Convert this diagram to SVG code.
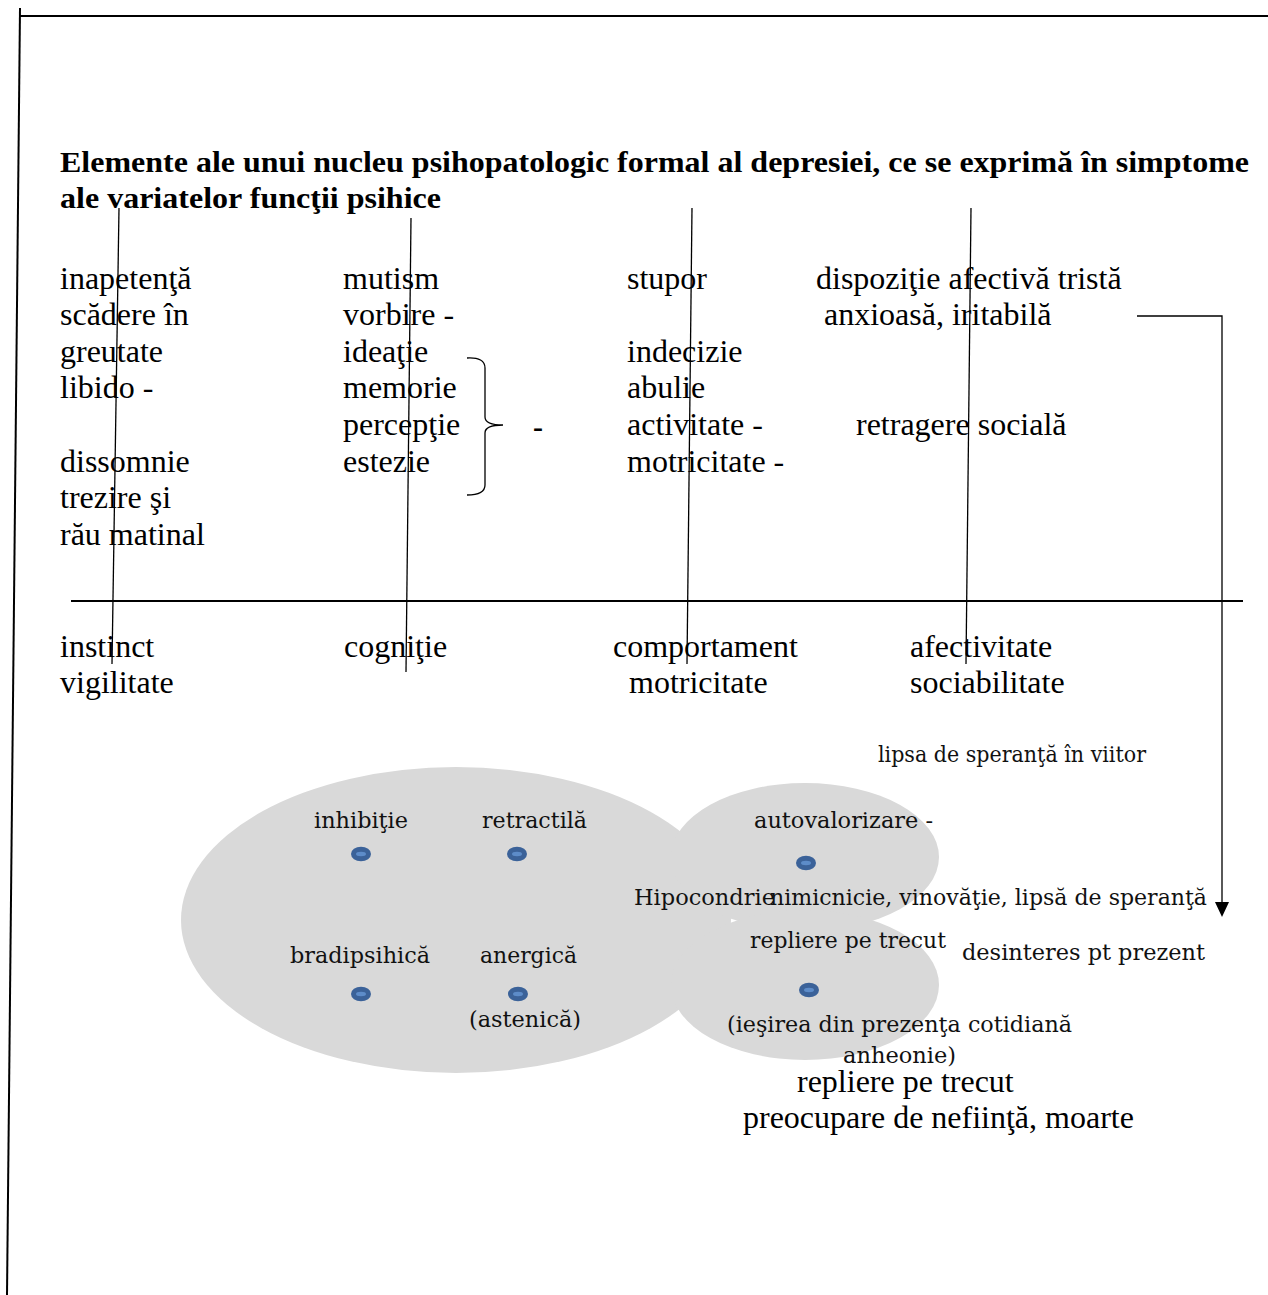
<svg xmlns="http://www.w3.org/2000/svg" width="1268" height="1295" viewBox="0 0 1268 1295">
  <style>
    .t { font-family: "Liberation Serif", "Times New Roman", serif; font-size: 32px; fill: #000; }
    .h { font-family: "Liberation Serif", "Times New Roman", serif; font-size: 29px; font-weight: bold; fill: #000; }
    .c { font-family: "DejaVu Serif", "Liberation Serif", serif; font-size: 22px; fill: #111; }
    .ln { stroke: #000; stroke-width: 1.3; fill: none; }
    .frame { stroke: #000; stroke-width: 2; fill: none; }
    .blob { fill: #d9d9d9; }
    .dot-o { fill: #3b6299; }
    .dot-i { fill: #5d8cc9; }
  </style>
  <defs>
    <g id="dot">
      <ellipse class="dot-o" cx="0" cy="0" rx="10" ry="7.3"/>
      <ellipse class="dot-i" cx="0" cy="0" rx="5" ry="2.2"/>
    </g>
  </defs>

  <rect width="1268" height="1295" fill="#fff"/>

  <!-- page frame -->
  <g id="frame">
    <line class="frame" x1="19" y1="16" x2="1268" y2="16"/>
    <line class="frame" x1="20" y1="8" x2="7" y2="1295"/>
  </g>

  <!-- heading -->
  <g id="title">
    <text class="h" x="60" y="172" textLength="1189" lengthAdjust="spacingAndGlyphs">Elemente ale unui nucleu psihopatologic formal al depresiei, ce se exprimă în simptome</text>
    <text class="h" x="60" y="208" textLength="381" lengthAdjust="spacingAndGlyphs">ale variatelor funcţii psihice</text>
  </g>

  <!-- symptom columns -->
  <g id="col-instinct">
    <text class="t" x="60" y="289">inapetenţă</text>
    <text class="t" x="60" y="325">scădere în</text>
    <text class="t" x="60" y="362">greutate</text>
    <text class="t" x="60" y="398">libido -</text>
    <text class="t" x="60" y="472">dissomnie</text>
    <text class="t" x="60" y="508">trezire şi</text>
    <text class="t" x="60" y="545">rău matinal</text>
  </g>
  <g id="col-cognitie">
    <text class="t" x="343" y="289">mutism</text>
    <text class="t" x="343" y="325">vorbire -</text>
    <text class="t" x="343" y="362">ideaţie</text>
    <text class="t" x="343" y="398">memorie</text>
    <text class="t" x="343" y="435">percepţie</text>
    <text class="t" x="343" y="472">estezie</text>
    <text class="t" x="533" y="437" style="font-weight:bold;font-size:30px">-</text>
  </g>
  <g id="col-comportament">
    <text class="t" x="627" y="289">stupor</text>
    <text class="t" x="627" y="362">indecizie</text>
    <text class="t" x="627" y="398">abulie</text>
    <text class="t" x="627" y="435">activitate -</text>
    <text class="t" x="627" y="472">motricitate -</text>
  </g>
  <g id="col-afectivitate">
    <text class="t" x="816" y="289">dispoziţie afectivă tristă</text>
    <text class="t" x="824" y="325">anxioasă, iritabilă</text>
    <text class="t" x="856" y="435">retragere socială</text>
  </g>

  <!-- axis labels -->
  <g id="axis-labels">
    <text class="t" x="60" y="657">instinct</text>
    <text class="t" x="60" y="693">vigilitate</text>
    <text class="t" x="344" y="657">cogniţie</text>
    <text class="t" x="613" y="657">comportament</text>
    <text class="t" x="629" y="693">motricitate</text>
    <text class="t" x="910" y="657">afectivitate</text>
    <text class="t" x="910" y="693">sociabilitate</text>
  </g>

  <text id="lipsa" class="c" x="878" y="762" textLength="268" lengthAdjust="spacingAndGlyphs">lipsa de speranţă în viitor</text>

  <!-- grouped shapes -->
  <g id="venn">
    <ellipse class="blob" cx="456" cy="920" rx="275" ry="153"/>
    <ellipse class="blob" cx="805" cy="857" rx="134" ry="74"/>
    <ellipse class="blob" cx="805" cy="985" rx="134" ry="75"/>
  </g>

  <g id="node-inhibitie">
    <text class="c" x="314" y="828" textLength="94" lengthAdjust="spacingAndGlyphs">inhibiţie</text>
    <use href="#dot" x="361" y="854"/>
  </g>
  <g id="node-retractila">
    <text class="c" x="482" y="828" textLength="105" lengthAdjust="spacingAndGlyphs">retractilă</text>
    <use href="#dot" x="517" y="854"/>
  </g>
  <g id="node-bradipsihica">
    <text class="c" x="290" y="963" textLength="140" lengthAdjust="spacingAndGlyphs">bradipsihică</text>
    <use href="#dot" x="361" y="994"/>
  </g>
  <g id="node-anergica">
    <text class="c" x="480" y="963" textLength="97" lengthAdjust="spacingAndGlyphs">anergică</text>
    <use href="#dot" x="518" y="994"/>
    <text class="c" x="469" y="1027" textLength="112" lengthAdjust="spacingAndGlyphs">(astenică)</text>
  </g>
  <g id="node-autovalorizare">
    <text class="c" x="754" y="828" textLength="179" lengthAdjust="spacingAndGlyphs">autovalorizare -</text>
    <use href="#dot" x="806" y="863"/>
    <text class="c" x="634" y="905" textLength="141" lengthAdjust="spacingAndGlyphs">Hipocondrie</text>
    <text class="c" x="770" y="905" textLength="437" lengthAdjust="spacingAndGlyphs">nimicnicie, vinovăţie, lipsă de speranţă</text>
  </g>
  <g id="node-repliere">
    <text class="c" x="750" y="948" textLength="196" lengthAdjust="spacingAndGlyphs">repliere pe trecut</text>
    <text class="c" x="962" y="960" style="font-size:23px" textLength="243" lengthAdjust="spacingAndGlyphs">desinteres pt prezent</text>
    <use href="#dot" x="809" y="990"/>
    <text class="c" x="727" y="1032" textLength="345" lengthAdjust="spacingAndGlyphs">(ieşirea din prezenţa cotidiană</text>
    <text class="c" x="843" y="1063" textLength="113" lengthAdjust="spacingAndGlyphs">anheonie)</text>
  </g>
  <g id="node-bottom">
    <text class="t" x="797" y="1092">repliere pe trecut</text>
    <text class="t" x="743" y="1128">preocupare de nefiinţă, moarte</text>
  </g>

  <!-- connectors -->
  <g id="connectors">
    <line class="ln" x1="119" y1="208" x2="112" y2="664"/>
    <line class="ln" x1="411" y1="218" x2="406" y2="672"/>
    <line class="ln" x1="692" y1="208" x2="687" y2="664"/>
    <line class="ln" x1="971" y1="208" x2="966" y2="664"/>
    <line class="frame" x1="71" y1="601" x2="1243" y2="601"/>
    <path class="ln" stroke-width="1.8" d="M467,358 Q485,357 485,368 L485,417 Q485,425 503,425 Q485,425 485,433 L485,485 Q485,495 467,495"/>
    <path class="ln" stroke-width="1.5" d="M1137,316 H1222 V904"/>
    <polygon points="1215,902 1229,902 1222,917" fill="#000"/>
  </g>
</svg>
